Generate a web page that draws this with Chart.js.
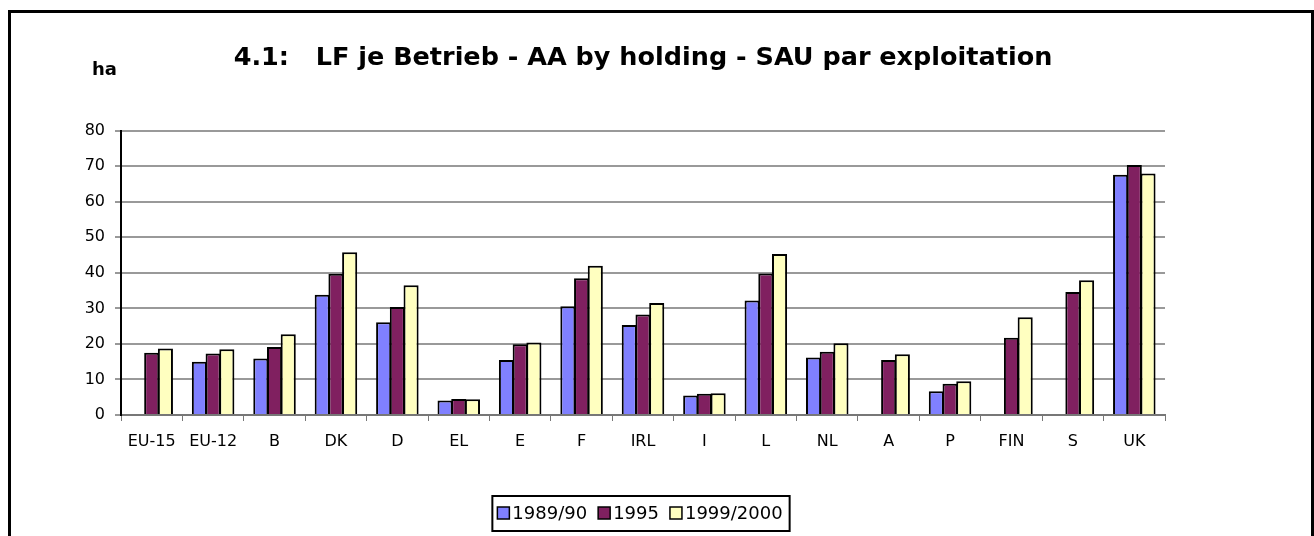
<!DOCTYPE html>
<html>
<head>
<meta charset="utf-8">
<script src="https://cdn.jsdelivr.net/npm/chart.js@4/dist/chart.umd.min.js"></script>
<style>
  html, body { margin: 0; padding: 0; background: #fff; }
  #wrap { position: relative; width: 1314px; height: 536px; overflow: hidden; }
  #frame { position: absolute; left: 8px; top: 10px; width: 1300px; height: 600px; border: 3px solid #000; pointer-events: none; }
  canvas { position: absolute; left: 0; top: 0; }
</style>
</head>
<body>
<div id="wrap">
  <canvas id="c" width="1314" height="536"></canvas>
  <div id="frame"></div>
</div>
<script>
const titleText = '4.1:   LF je Betrieb - AA by holding - SAU par exploitation';
const unitLabel = 'ha';
const categories = ['EU-15','EU-12','B','DK','D','EL','E','F','IRL','I','L','NL','A','P','FIN','S','UK'];
const seriesNames = ['1989/90','1995','1999/2000'];
const values1989 = [null, 15.0, 15.9, 33.8, 26.1, 4.1, 15.5, 30.6, 25.3, 5.5, 32.2, 16.2, null, 6.7, null, null, 67.6];
const values1995 = [17.5, 17.3, 19.1, 39.7, 30.4, 4.5, 19.9, 38.5, 28.3, 6.0, 39.8, 17.8, 15.5, 8.8, 21.7, 34.6, 70.3];
const values1999 = [18.7, 18.5, 22.7, 45.8, 36.5, 4.4, 20.4, 42.0, 31.5, 6.1, 45.3, 20.2, 17.1, 9.5, 27.5, 37.9, 67.9];
const yTicks = [0,10,20,30,40,50,60,70,80];

const colors = ['#8080FF', '#802060', '#FFFFC0'];
const FONT = "'DejaVu Sans', sans-serif";

const unitPlugin = {
  id: 'unitLabel',
  afterDraw(chart) {
    const ctx = chart.ctx;
    ctx.save();
    ctx.font = 'bold 18px ' + FONT;
    ctx.fillStyle = '#000';
    ctx.textBaseline = 'alphabetic';
    ctx.fillText(unitLabel, 92, 75);
    ctx.restore();
  }
};

// Boxed legend below the chart, built from the datasets
const boxedLegend = {
  id: 'boxedLegend',
  afterDraw(chart) {
    const ctx = chart.ctx;
    const ds = chart.data.datasets;
    const sw = 12, gapText = 3, gapItem = 11;
    ctx.save();
    ctx.font = '18px ' + FONT;
    const widths = ds.map(d => ctx.measureText(d.label).width);
    let total = 0;
    widths.forEach((w, i) => { total += sw + gapText + w + (i < ds.length - 1 ? gapItem : 0); });
    const cx = 640, cy = 513;
    let x = cx - total / 2;
    ctx.strokeStyle = '#000';
    ctx.lineWidth = 2;
    ctx.strokeRect(x - 5, 496, total + 12, 35);
    ctx.textBaseline = 'middle';
    ds.forEach((d, i) => {
      ctx.fillStyle = d.backgroundColor;
      ctx.fillRect(x, cy - sw / 2, sw, sw);
      ctx.lineWidth = 1.5;
      ctx.strokeStyle = '#000';
      ctx.strokeRect(x, cy - sw / 2, sw, sw);
      ctx.fillStyle = '#000';
      ctx.fillText(d.label, x + sw + gapText, cy + 1);
      x += sw + gapText + widths[i] + gapItem;
    });
    ctx.restore();
  }
};

new Chart(document.getElementById('c'), {
  type: 'bar',
  data: {
    labels: categories,
    datasets: [
      { label: seriesNames[0], data: values1989, backgroundColor: colors[0], borderColor: '#000', borderWidth: 2 },
      { label: seriesNames[1], data: values1995, backgroundColor: colors[1], borderColor: '#000', borderWidth: 2 },
      { label: seriesNames[2], data: values1999, backgroundColor: colors[2], borderColor: '#000', borderWidth: 2 }
    ]
  },
  options: {
    responsive: false,
    animation: false,
    devicePixelRatio: 1,
    datasets: { bar: { categoryPercentage: 0.67, barPercentage: 1.1 } },
    layout: { padding: { left: 0, right: 149, top: 0, bottom: 43 } },
    plugins: {
      title: {
        display: true, fullSize: false, text: titleText, color: '#000',
        font: { family: FONT, size: 25.5, weight: 'bold' },
        padding: { top: 43, bottom: 57 }
      },
      legend: { display: false },
      tooltip: { enabled: false }
    },
    scales: {
      x: {
        grid: { display: true, drawOnChartArea: false, drawTicks: true, tickLength: 6, color: '#777', offset: true, lineWidth: 1 },
        border: { display: true, color: '#777', width: 2 },
        ticks: { color: '#000', font: { family: FONT, size: 16 }, padding: 11, maxRotation: 0, autoSkip: false },
        afterFit(s) { s.height = 78; }
      },
      y: {
        min: 0, max: 80,
        afterBuildTicks(s) { s.ticks = yTicks.map(v => ({ value: v })); },
        grid: { color: '#999', lineWidth: 2, tickLength: 6, tickColor: '#333', tickWidth: 1 },
        border: { display: true, color: '#000', width: 2 },
        ticks: { color: '#000', font: { family: FONT, size: 16 }, padding: 10 },
        afterFit(s) { s.width = 121; }
      }
    }
  },
  plugins: [unitPlugin, boxedLegend]
});
</script>
</body>
</html>
